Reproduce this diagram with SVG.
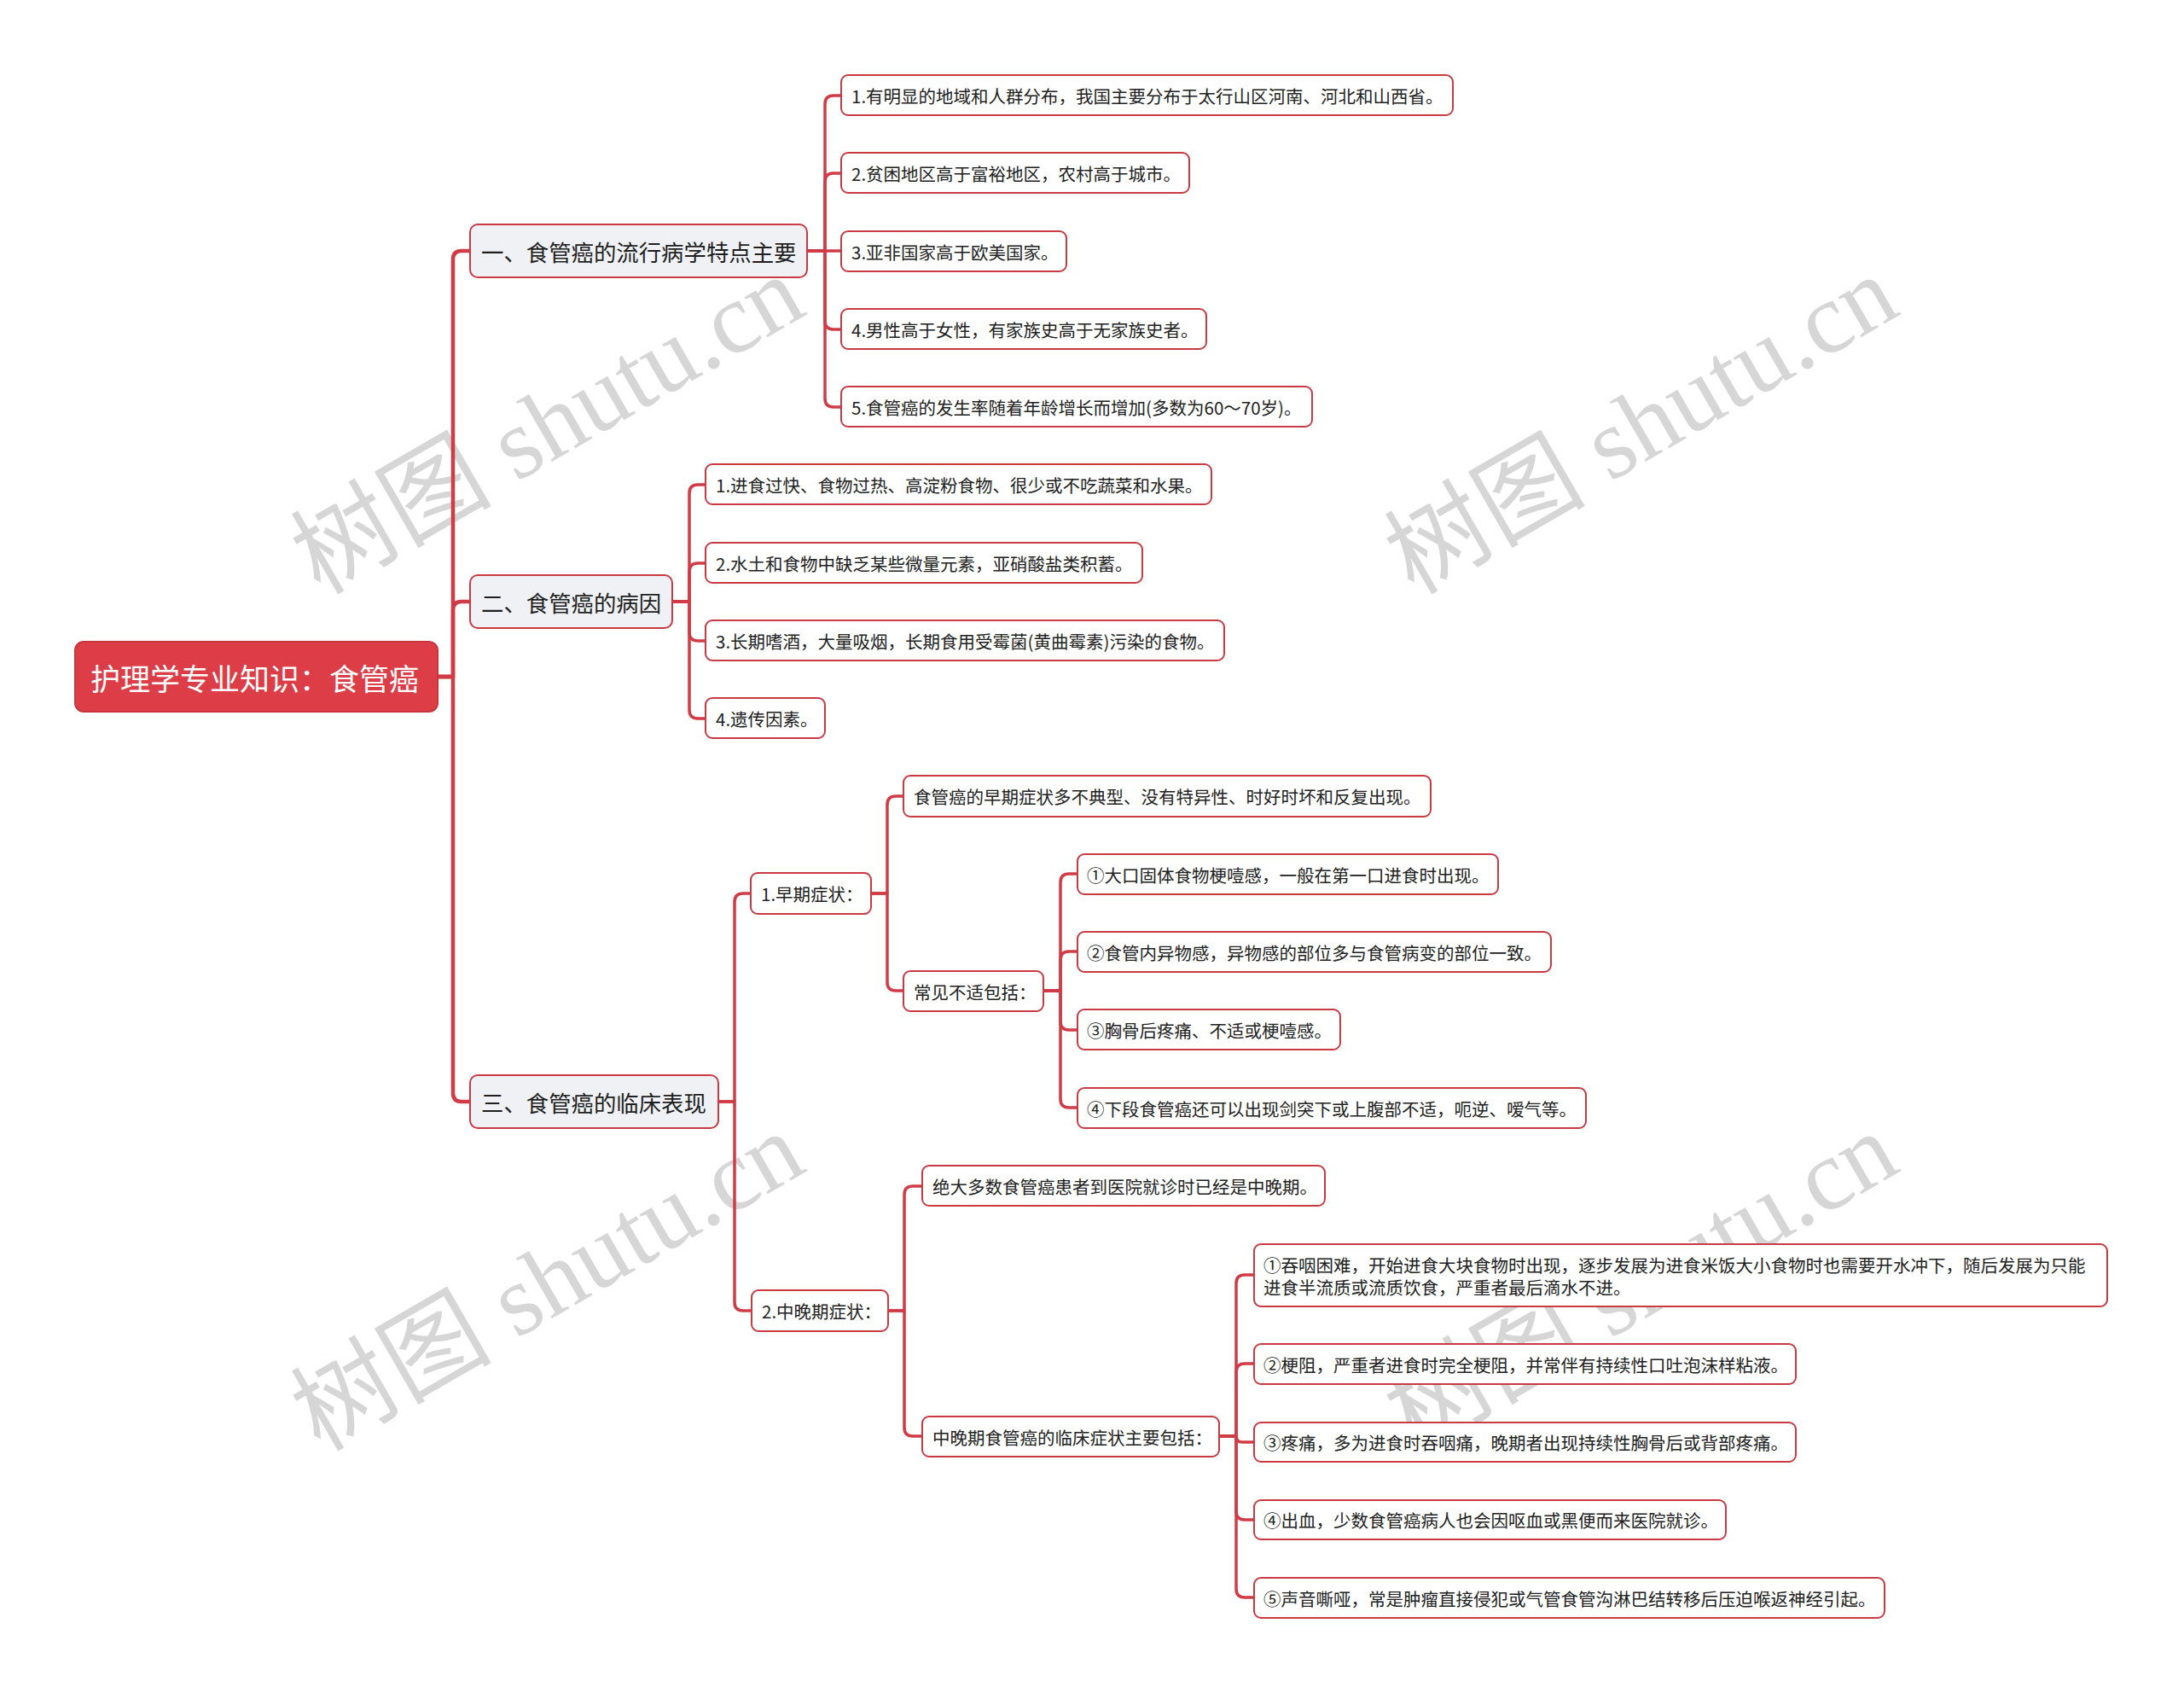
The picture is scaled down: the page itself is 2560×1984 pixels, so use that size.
<svg xmlns="http://www.w3.org/2000/svg" width="2560" height="1984" viewBox="0 0 2560 1984">
<style>
.wm{font-family:"Liberation Serif","Noto Sans CJK SC",serif;font-size:118px;fill:#d6d6d6;}
.conn path{fill:none;stroke:#d13b45;stroke-width:3.5;stroke-linecap:round;stroke-linejoin:round;}
.conn path.trunk{stroke-width:4.5;}
.root rect{fill:#dc3d47;stroke:#c9353f;stroke-width:2;}
.root text{font-family:"Noto Sans CJK SC","Noto Sans",sans-serif;font-size:35px;fill:#ffffff;dominant-baseline:central;}
.l1 rect{fill:#eff1f5;stroke:#c93a43;stroke-width:2;}
.l1 text{font-family:"Noto Sans CJK SC","Noto Sans",sans-serif;font-size:26.4px;fill:#1f1f1f;dominant-baseline:central;}
.leaf rect{fill:#ffffff;stroke:#c93a43;stroke-width:2;}
.leaf text{font-family:"Noto Sans CJK SC","Noto Sans",sans-serif;font-size:20.5px;fill:#222222;dominant-baseline:central;}
</style>
<rect x="0" y="0" width="2560" height="1984" fill="#ffffff"/>
<g id="watermarks">
<text class="wm" transform="translate(375,698) rotate(-30)">树图 shutu.cn</text>
<text class="wm" transform="translate(1657,698) rotate(-30)">树图 shutu.cn</text>
<text class="wm" transform="translate(375,1702) rotate(-30)">树图 shutu.cn</text>
<text class="wm" transform="translate(1657,1702) rotate(-30)">树图 shutu.cn</text>
</g>
<g id="connectors" class="conn">
<path class="trunk" d="M513,793 H531 V304 Q531,294 541,294 H551"/>
<path class="trunk" d="M513,793 H531 V715 Q531,705 541,705 H551"/>
<path class="trunk" d="M513,793 H531 V1281 Q531,1291 541,1291 H551"/>
<path d="M946,294 H967 V122 Q967,112 977,112 H986"/>
<path d="M946,294 H967 V213 Q967,203 977,203 H986"/>
<path d="M946,294 H986"/>
<path d="M946,294 H967 V376 Q967,386 977,386 H986"/>
<path d="M946,294 H967 V467 Q967,477 977,477 H986"/>
<path d="M788,705 H808 V578 Q808,568 818,568 H827"/>
<path d="M788,705 H808 V670 Q808,660 818,660 H827"/>
<path d="M788,705 H808 V741 Q808,751 818,751 H827"/>
<path d="M788,705 H808 V832 Q808,842 818,842 H827"/>
<path d="M842,1291 H861 V1057 Q861,1047 871,1047 H880"/>
<path d="M842,1291 H861 V1526 Q861,1536 871,1536 H881"/>
<path d="M1021,1047 H1040 V943 Q1040,933 1050,933 H1059"/>
<path d="M1021,1047 H1040 V1151 Q1040,1161 1050,1161 H1059"/>
<path d="M1223,1161 H1243 V1034 Q1243,1024 1253,1024 H1263"/>
<path d="M1223,1161 H1243 V1125 Q1243,1115 1253,1115 H1263"/>
<path d="M1223,1161 H1243 V1197 Q1243,1207 1253,1207 H1263"/>
<path d="M1223,1161 H1243 V1288 Q1243,1298 1253,1298 H1263"/>
<path d="M1041,1536 H1060 V1400 Q1060,1390 1070,1390 H1081"/>
<path d="M1041,1536 H1060 V1673 Q1060,1683 1070,1683 H1081"/>
<path d="M1429,1683 H1449 V1504 Q1449,1494 1459,1494 H1470"/>
<path d="M1429,1683 H1449 V1608 Q1449,1598 1459,1598 H1470"/>
<path d="M1429,1683 H1449 Q1449,1690 1456,1690 H1470"/>
<path d="M1429,1683 H1449 V1771 Q1449,1781 1459,1781 H1470"/>
<path d="M1429,1683 H1449 V1862 Q1449,1872 1459,1872 H1470"/>
</g>
<g id="root" class="root"><rect x="88" y="752" width="425" height="82" rx="10"/><text x="106" y="793">护理学专业知识：食管癌</text></g>
<g id="n1" class="l1"><rect x="551" y="263" width="395" height="62" rx="9"/><text x="564" y="294">一、食管癌的流行病学特点主要</text></g>
<g id="n2" class="l1"><rect x="551" y="674" width="237" height="62" rx="9"/><text x="564" y="705">二、食管癌的病因</text></g>
<g id="n3" class="l1"><rect x="551" y="1260" width="291" height="62" rx="9"/><text x="564" y="1291">三、食管癌的临床表现</text></g>
<g id="n1-1" class="leaf"><rect x="986" y="88" width="717" height="47" rx="8"/><text x="998" y="112">1.有明显的地域和人群分布，我国主要分布于太行山区河南、河北和山西省。</text></g>
<g id="n1-2" class="leaf"><rect x="986" y="179" width="408" height="47" rx="8"/><text x="998" y="203">2.贫困地区高于富裕地区，农村高于城市。</text></g>
<g id="n1-3" class="leaf"><rect x="986" y="271" width="264" height="47" rx="8"/><text x="998" y="295">3.亚非国家高于欧美国家。</text></g>
<g id="n1-4" class="leaf"><rect x="986" y="362" width="428" height="47" rx="8"/><text x="998" y="386">4.男性高于女性，有家族史高于无家族史者。</text></g>
<g id="n1-5" class="leaf"><rect x="986" y="453" width="552" height="47" rx="8"/><text x="998" y="477">5.食管癌的发生率随着年龄增长而增加(多数为60～70岁)。</text></g>
<g id="n2-1" class="leaf"><rect x="827" y="544" width="593" height="47" rx="8"/><text x="839" y="568">1.进食过快、食物过热、高淀粉食物、很少或不吃蔬菜和水果。</text></g>
<g id="n2-2" class="leaf"><rect x="827" y="636" width="512" height="47" rx="8"/><text x="839" y="660">2.水土和食物中缺乏某些微量元素，亚硝酸盐类积蓄。</text></g>
<g id="n2-3" class="leaf"><rect x="827" y="727" width="608" height="47" rx="8"/><text x="839" y="751">3.长期嗜酒，大量吸烟，长期食用受霉菌(黄曲霉素)污染的食物。</text></g>
<g id="n2-4" class="leaf"><rect x="827" y="818" width="140" height="47" rx="8"/><text x="839" y="842">4.遗传因素。</text></g>
<g id="n3-1" class="leaf"><rect x="880" y="1023" width="141" height="48" rx="8"/><text x="892" y="1047">1.早期症状：</text></g>
<g id="n3-2" class="leaf"><rect x="881" y="1512" width="160" height="48" rx="8"/><text x="893" y="1536">2.中晚期症状：</text></g>
<g id="n3-1-1" class="leaf"><rect x="1059" y="909" width="618" height="48" rx="8"/><text x="1071" y="933">食管癌的早期症状多不典型、没有特异性、时好时坏和反复出现。</text></g>
<g id="n3-1-2" class="leaf"><rect x="1059" y="1138" width="164" height="47" rx="8"/><text x="1071" y="1162">常见不适包括：</text></g>
<g id="n3-1-2-1" class="leaf"><rect x="1263" y="1001" width="493" height="47" rx="8"/><text x="1274" y="1025">①大口固体食物梗噎感，一般在第一口进食时出现。</text></g>
<g id="n3-1-2-2" class="leaf"><rect x="1263" y="1092" width="555" height="47" rx="8"/><text x="1274" y="1116">②食管内异物感，异物感的部位多与食管病变的部位一致。</text></g>
<g id="n3-1-2-3" class="leaf"><rect x="1263" y="1183" width="308" height="47" rx="8"/><text x="1274" y="1207">③胸骨后疼痛、不适或梗噎感。</text></g>
<g id="n3-1-2-4" class="leaf"><rect x="1263" y="1275" width="596" height="47" rx="8"/><text x="1274" y="1299">④下段食管癌还可以出现剑突下或上腹部不适，呃逆、嗳气等。</text></g>
<g id="n3-2-1" class="leaf"><rect x="1081" y="1366" width="472" height="47" rx="8"/><text x="1093" y="1390">绝大多数食管癌患者到医院就诊时已经是中晚期。</text></g>
<g id="n3-2-2" class="leaf"><rect x="1081" y="1660" width="348" height="47" rx="8"/><text x="1093" y="1684">中晚期食管癌的临床症状主要包括：</text></g>
<g id="n3-2-2-1" class="leaf"><rect x="1470" y="1458" width="1000" height="73" rx="8"/><text x="1481" y="1482">①吞咽困难，开始进食大块食物时出现，逐步发展为进食米饭大小食物时也需要开水冲下，随后发展为只能</text><text x="1481" y="1508">进食半流质或流质饮食，严重者最后滴水不进。</text></g>
<g id="n3-2-2-2" class="leaf"><rect x="1470" y="1575" width="635" height="47" rx="8"/><text x="1481" y="1599">②梗阻，严重者进食时完全梗阻，并常伴有持续性口吐泡沫样粘液。</text></g>
<g id="n3-2-2-3" class="leaf"><rect x="1470" y="1667" width="635" height="46" rx="8"/><text x="1481" y="1690">③疼痛，多为进食时吞咽痛，晚期者出现持续性胸骨后或背部疼痛。</text></g>
<g id="n3-2-2-4" class="leaf"><rect x="1470" y="1758" width="553" height="46" rx="8"/><text x="1481" y="1781">④出血，少数食管癌病人也会因呕血或黑便而来医院就诊。</text></g>
<g id="n3-2-2-5" class="leaf"><rect x="1470" y="1849" width="739" height="47" rx="8"/><text x="1481" y="1873">⑤声音嘶哑，常是肿瘤直接侵犯或气管食管沟淋巴结转移后压迫喉返神经引起。</text></g>
</svg>
